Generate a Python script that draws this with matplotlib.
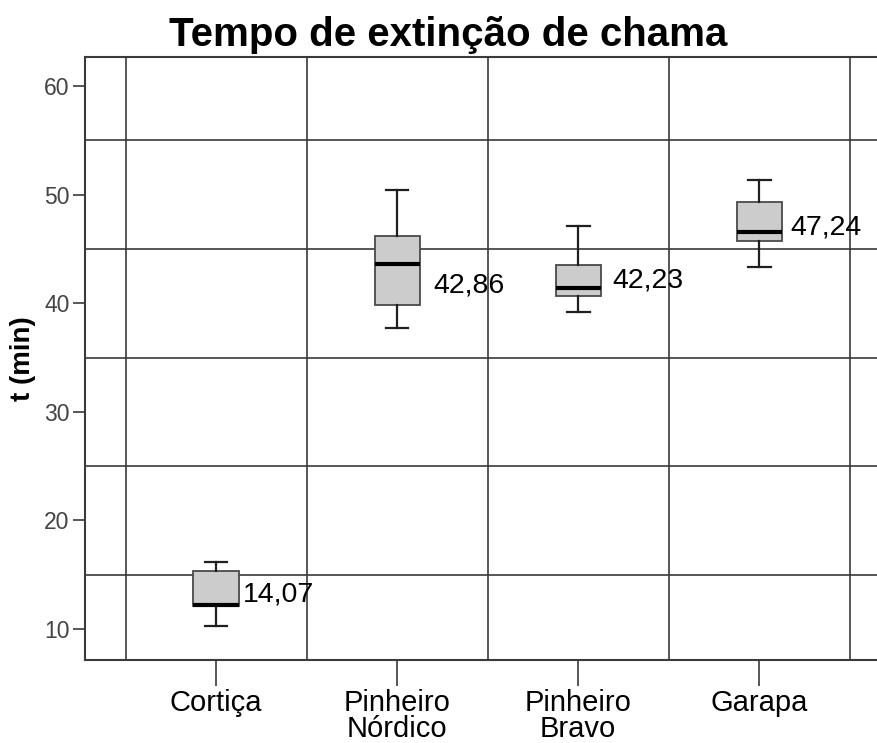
import matplotlib
matplotlib.use("Agg")
import matplotlib.pyplot as plt

plt.rcParams['font.family'] = ['Liberation Sans', 'DejaVu Sans']

# data (minutes)
categories = ["Cortiça", "Pinheiro\nNórdico", "Pinheiro\nBravo", "Garapa"]
whisker_low = [10.3, 37.7, 39.2, 43.3]
q1 = [12.15, 39.8, 40.7, 45.7]
median = [12.2, 43.6, 41.4, 46.6]
q3 = [15.3, 46.15, 43.5, 49.3]
whisker_high = [16.2, 50.4, 47.1, 51.3]
means = [14.07, 42.86, 42.23, 47.24]
mean_labels = ["14,07", "42,86", "42,23", "47,24"]

# label placement (hand placed in the original)
label_dx = [0.15, 0.20, 0.19, 0.17]
label_dy = [-0.87, -1.21, -0.13, -0.29]

stats = []
for i in range(len(categories)):
    stats.append({
        'whislo': whisker_low[i], 'q1': q1[i], 'med': median[i],
        'q3': q3[i], 'whishi': whisker_high[i], 'fliers': [],
    })

fig = plt.figure(figsize=(8.77, 7.43), dpi=100)
ax = fig.add_axes([85 / 877, 83 / 743, 1 - 85 / 877, (660 - 57) / 743])

pos = list(range(len(categories)))
ax.bxp(stats, positions=pos, widths=0.25, capwidths=0.125, patch_artist=True,
       boxprops=dict(facecolor='#cccccc', edgecolor='#4a4a4a', linewidth=1.3),
       medianprops=dict(color='black', linewidth=3),
       whiskerprops=dict(color='#202020', linewidth=1.6),
       capprops=dict(color='#202020', linewidth=1.6),
       zorder=3)

for i in pos:
    ax.text(i + label_dx[i], means[i] + label_dy[i], mean_labels[i],
            fontsize=20.5, va='center', ha='left', color='black', zorder=4)

# grid between the categories and between the ticks
for x in [p - 0.5 for p in pos] + [pos[-1] + 0.5]:
    ax.axvline(x, color='#3a3a3a', linewidth=1.2, zorder=1)
for y in [15, 25, 35, 45, 55]:
    ax.axhline(y, color='#3a3a3a', linewidth=1.2, zorder=1)

ax.set_xlim(-0.724, 3.65)
ax.set_ylim(7.15, 62.67)
ax.set_yticks([10, 20, 30, 40, 50, 60])
ax.set_xticks(pos)
ax.set_xticklabels(categories, fontsize=21, linespacing=0.9)
ax.tick_params(axis='y', labelsize=16.5, labelcolor='#444444', length=9,
               width=1.2, color='#3a3a3a', pad=2)
ax.tick_params(axis='x', length=19, width=1.2, color='#3a3a3a', pad=2)

for side in ['left', 'top', 'bottom']:
    ax.spines[side].set_color('#3a3a3a')
    ax.spines[side].set_linewidth(1.5)
ax.spines['right'].set_visible(False)

ax.set_ylabel("t (min)", fontsize=20, fontweight='bold', labelpad=6)
fig.text(448 / 877, 1 - 35 / 743, "Tempo de extinção de chama",
         fontsize=29, fontweight='bold', ha='center', va='center')

fig.savefig("out.png", dpi=100)
